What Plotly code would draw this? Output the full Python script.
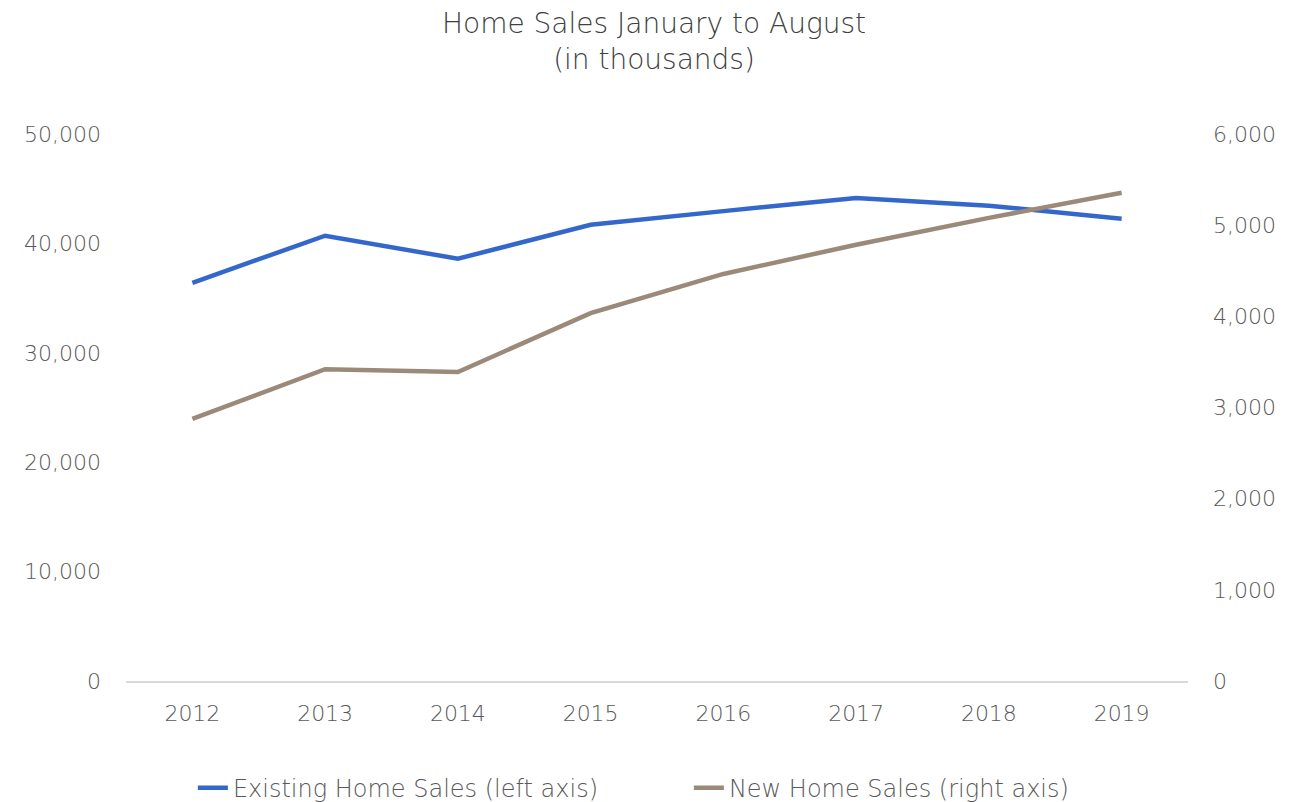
import plotly.graph_objects as go

years = ["2012", "2013", "2014", "2015", "2016", "2017", "2018", "2019"]
existing_sales = [36400, 40700, 38600, 41700, 42950, 44150, 43450, 42250]
new_sales = [2875, 3420, 3390, 4035, 4465, 4785, 5080, 5355]

font_family = "'DejaVu Sans', 'Open Sans', sans-serif"

fig = go.Figure()

# Existing home sales (left axis)
fig.add_trace(go.Scatter(
    x=years, y=existing_sales,
    name="Existing Home Sales (left axis)",
    mode="lines",
    line=dict(color="#3467CC", width=4.5),
))

# New home sales (right axis)
fig.add_trace(go.Scatter(
    x=years, y=new_sales,
    name="New Home Sales (right axis)",
    mode="lines",
    line=dict(color="#9B8A79", width=4.5),
    yaxis="y2",
))

# page body adds an 8px offset, so the figure is sized/placed to compensate
fig.update_layout(
    width=1292, height=794,
    paper_bgcolor="white", plot_bgcolor="white",
    font=dict(family=font_family, size=22, color="#595959", weight=300),
    title=dict(
        text="Home Sales January to August<br>(in thousands)",
        x=0.5, xanchor="center", y=0.9685, yanchor="top",
        font=dict(size=28, color="#404040", weight=300),
    ),
    margin=dict(l=118, r=112, t=126, b=121),
    xaxis=dict(
        type="category", range=[-0.5, 7.5], automargin=False,
        showgrid=False, showline=True, linecolor="#D9D9D9", linewidth=1.5,
        ticks="", ticklabelstandoff=12,
    ),
    yaxis=dict(
        range=[0, 50000], dtick=10000, tickformat=",", automargin=False,
        showgrid=False, zeroline=False, ticklabelstandoff=24,
    ),
    yaxis2=dict(
        range=[0, 6000], dtick=1000, tickformat=",", automargin=False,
        overlaying="y", side="right",
        showgrid=False, zeroline=False, ticklabelstandoff=24,
    ),
    legend=dict(
        orientation="h", xref="container", yref="container",
        x=0.527, xanchor="center", y=0.0176, yanchor="middle",
        font=dict(size=24, color="#595959", weight=300),
        entrywidth=451, entrywidthmode="pixels",
    ),
    showlegend=True,
)

fig.write_html("out.html")
